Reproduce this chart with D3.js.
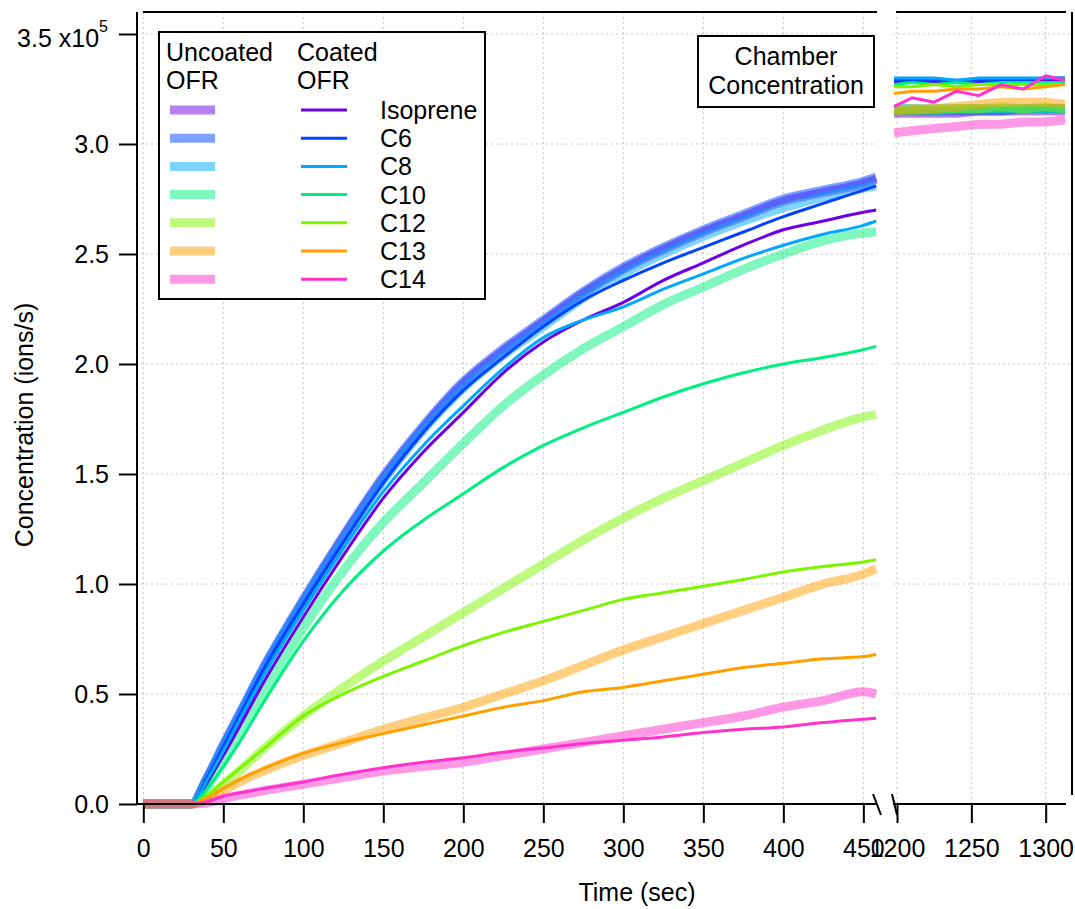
<!DOCTYPE html>
<html>
<head>
<meta charset="utf-8">
<script src="https://cdn.jsdelivr.net/npm/d3@7"></script>
<style>
  html, body { margin: 0; padding: 0; background: #fff; }
  svg { display: block; font-family: "Liberation Sans", Arial, sans-serif; }
</style>
</head>
<body>
<svg id="chart" width="1075" height="909"></svg>
<script>
// ---------------- DATA ----------------
const seriesNames = ["Isoprene", "C6", "C8", "C10", "C12", "C13", "C14"];
const seriesColors = ["#6e00e6", "#0044ff", "#00a8ff", "#00f080", "#7cf500", "#ffa000", "#ff33cc"];

const times = [0, 30, 40, 50, 60, 75, 100, 125, 150, 175, 200, 225, 250, 275, 300, 325, 350, 375, 400, 425, 450, 458];

// Uncoated OFR (x10^5 ions/s)
const uncoatedIsoprene = [0,0,0.12,0.26,0.40,0.61,0.92,1.21,1.48,1.71,1.91,2.06,2.19,2.32,2.43,2.52,2.60,2.67,2.74,2.78,2.82,2.84];
const uncoatedC6       = [0,0,0.12,0.27,0.41,0.62,0.93,1.22,1.49,1.72,1.92,2.07,2.20,2.33,2.44,2.53,2.61,2.68,2.75,2.79,2.83,2.85];
const uncoatedC8       = [0,0,0.12,0.26,0.40,0.61,0.92,1.20,1.47,1.70,1.89,2.04,2.17,2.30,2.41,2.50,2.58,2.65,2.71,2.76,2.80,2.81];
const uncoatedC10      = [0,0,0.08,0.19,0.31,0.50,0.80,1.06,1.28,1.46,1.64,1.81,1.95,2.07,2.17,2.27,2.35,2.43,2.50,2.56,2.595,2.60];
const uncoatedC12      = [0,0,0.03,0.09,0.15,0.25,0.40,0.53,0.65,0.76,0.87,0.98,1.09,1.20,1.30,1.39,1.47,1.55,1.63,1.70,1.76,1.77];
const uncoatedC13      = [0,0,0.02,0.06,0.10,0.15,0.22,0.28,0.34,0.39,0.44,0.50,0.56,0.63,0.70,0.76,0.82,0.88,0.94,1.00,1.045,1.07];
const uncoatedC14      = [0,0,0.005,0.025,0.04,0.06,0.09,0.12,0.15,0.17,0.19,0.22,0.25,0.28,0.31,0.34,0.37,0.40,0.44,0.47,0.51,0.50];

// Coated OFR
const coatedIsoprene = [0,0,0.10,0.22,0.35,0.55,0.85,1.13,1.39,1.60,1.78,1.96,2.10,2.20,2.28,2.38,2.46,2.54,2.61,2.65,2.69,2.70];
const coatedC6       = [0,0,0.12,0.26,0.40,0.61,0.91,1.19,1.46,1.69,1.88,2.03,2.17,2.29,2.38,2.46,2.53,2.60,2.67,2.73,2.79,2.81];
const coatedC8       = [0,0,0.11,0.24,0.38,0.58,0.88,1.16,1.42,1.63,1.81,1.98,2.12,2.20,2.26,2.34,2.41,2.48,2.54,2.59,2.63,2.65];
const coatedC10      = [0,0,0.07,0.17,0.28,0.46,0.74,0.97,1.15,1.29,1.41,1.53,1.63,1.71,1.78,1.85,1.91,1.96,2.00,2.03,2.065,2.08];
const coatedC12      = [0,0,0.04,0.10,0.16,0.25,0.40,0.50,0.58,0.65,0.72,0.78,0.83,0.88,0.93,0.96,0.99,1.02,1.055,1.08,1.10,1.11];
const coatedC13      = [0,0,0.03,0.07,0.11,0.16,0.23,0.28,0.32,0.36,0.40,0.44,0.47,0.51,0.53,0.56,0.59,0.62,0.64,0.66,0.67,0.68];
const coatedC14      = [0,0,0.01,0.035,0.05,0.07,0.10,0.135,0.165,0.19,0.21,0.235,0.255,0.275,0.29,0.305,0.325,0.34,0.35,0.37,0.385,0.39];

// Chamber concentration (right panel)
const chamberTimes = [1198, 1210, 1225, 1240, 1255, 1270, 1285, 1300, 1313];
const chamberUncoatedIsoprene = [3.14,3.14,3.14,3.14,3.15,3.15,3.15,3.15,3.15];
const chamberUncoatedC6       = [3.15,3.15,3.15,3.15,3.15,3.15,3.16,3.16,3.16];
const chamberUncoatedC8       = [3.16,3.16,3.16,3.16,3.16,3.16,3.16,3.16,3.16];
const chamberUncoatedC10      = [3.16,3.16,3.15,3.16,3.16,3.16,3.16,3.16,3.16];
const chamberUncoatedC12      = [3.15,3.15,3.16,3.16,3.16,3.17,3.16,3.17,3.16];
const chamberUncoatedC13      = [3.15,3.16,3.16,3.17,3.18,3.19,3.19,3.19,3.18];
const chamberUncoatedC14      = [3.05,3.06,3.07,3.08,3.09,3.09,3.10,3.10,3.11];
const chamberCoatedIsoprene = [3.28,3.28,3.28,3.28,3.28,3.28,3.29,3.29,3.29];
const chamberCoatedC6       = [3.29,3.29,3.29,3.29,3.29,3.29,3.29,3.30,3.30];
const chamberCoatedC8       = [3.30,3.30,3.30,3.29,3.30,3.30,3.30,3.30,3.30];
const chamberCoatedC10      = [3.27,3.28,3.27,3.28,3.27,3.28,3.28,3.28,3.28];
const chamberCoatedC12      = [3.26,3.26,3.27,3.26,3.27,3.27,3.27,3.27,3.27];
const chamberCoatedC13      = [3.23,3.24,3.24,3.25,3.25,3.26,3.25,3.26,3.27];
const chamberCoatedC14      = [3.17,3.21,3.19,3.24,3.22,3.27,3.25,3.31,3.29];

const yTicks = [0, 0.5, 1.0, 1.5, 2.0, 2.5, 3.0, 3.5];
const xTicksLeft = [0, 50, 100, 150, 200, 250, 300, 350, 400, 450];
const xTicksRight = [1200, 1250, 1300];

// ---------------- BUILD ----------------
const uncoated = [uncoatedIsoprene, uncoatedC6, uncoatedC8, uncoatedC10, uncoatedC12, uncoatedC13, uncoatedC14];
const coated = [coatedIsoprene, coatedC6, coatedC8, coatedC10, coatedC12, coatedC13, coatedC14];
const chUncoated = [chamberUncoatedIsoprene, chamberUncoatedC6, chamberUncoatedC8, chamberUncoatedC10, chamberUncoatedC12, chamberUncoatedC13, chamberUncoatedC14];
const chCoated = [chamberCoatedIsoprene, chamberCoatedC6, chamberCoatedC8, chamberCoatedC10, chamberCoatedC12, chamberCoatedC13, chamberCoatedC14];

const svg = d3.select("#chart");
const FONT = 25;

const yTop = 12, yBottom = 804;
const y = d3.scaleLinear().domain([0, 3.5]).range([804, 34]);
const xL = d3.scaleLinear().domain([-4.56, 460.4]).range([136, 880]);
const xR = d3.scaleLinear().domain([1197.3, 1317.7]).range([893, 1072]);

// Grid
const grid = svg.append("g").attr("stroke", "#c4c4c4").attr("stroke-width", 1).attr("stroke-dasharray", "2,3");
xTicksLeft.forEach(t => grid.append("line").attr("x1", xL(t)).attr("x2", xL(t)).attr("y1", yTop).attr("y2", yBottom));
xTicksRight.forEach(t => grid.append("line").attr("x1", xR(t)).attr("x2", xR(t)).attr("y1", yTop).attr("y2", yBottom));
yTicks.filter(v => v > 0).forEach(v => {
  grid.append("line").attr("x1", 136).attr("x2", 877).attr("y1", y(v)).attr("y2", y(v));
  grid.append("line").attr("x1", 893).attr("x2", 1072).attr("y1", y(v)).attr("y2", y(v));
});

// Lines
const lineL = d3.line().curve(d3.curveMonotoneX).x(d => xL(d[0])).y(d => y(d[1]));
const lineR = d3.line().x(d => xR(d[0])).y(d => y(d[1]));

const gLines = svg.append("g");
uncoated.forEach((vals, i) => {
  gLines.append("path").datum(times.map((t, k) => [t, vals[k]])).attr("d", lineL)
    .attr("fill", "none").attr("stroke", seriesColors[i]).attr("stroke-opacity", 0.5)
    .attr("stroke-width", 9).attr("stroke-linejoin", "round");
  gLines.append("path").datum(chamberTimes.map((t, k) => [t, chUncoated[i][k]])).attr("d", lineR)
    .attr("fill", "none").attr("stroke", seriesColors[i]).attr("stroke-opacity", 0.5)
    .attr("stroke-width", 9).attr("stroke-linejoin", "round");
});
coated.forEach((vals, i) => {
  gLines.append("path").datum(times.map((t, k) => [t, vals[k]])).attr("d", lineL)
    .attr("fill", "none").attr("stroke", seriesColors[i]).attr("stroke-width", 3).attr("stroke-linejoin", "round");
  gLines.append("path").datum(chamberTimes.map((t, k) => [t, chCoated[i][k]])).attr("d", lineR)
    .attr("fill", "none").attr("stroke", seriesColors[i]).attr("stroke-width", 3).attr("stroke-linejoin", "round");
});

// Axes
const yAxis = d3.axisLeft(y).tickValues(yTicks).tickSize(18).tickSizeOuter(0).tickPadding(10)
  .tickFormat(v => v === 3.5 ? "" : d3.format(".1f")(v));
const gy = svg.append("g").attr("transform", "translate(137,0)").call(yAxis);
gy.select(".domain").remove();
gy.selectAll(".tick line").attr("stroke", "#000").attr("stroke-width", 2);
gy.selectAll(".tick text").attr("font-size", FONT).attr("fill", "#000").attr("font-family", "Liberation Sans, Arial, sans-serif");

const top35 = svg.append("text").attr("x", 108).attr("y", y(3.5) + 13).attr("text-anchor", "end")
  .attr("font-size", FONT).attr("fill", "#000");
top35.append("tspan").text("3.5 x10");
top35.append("tspan").attr("dy", -15).attr("font-size", 16).text("5");

const xAxisL = d3.axisBottom(xL).tickValues(xTicksLeft).tickSize(19).tickSizeOuter(0).tickPadding(16).tickFormat(d3.format("d"));
const gxL = svg.append("g").attr("transform", "translate(0,804)").call(xAxisL);
const xAxisR = d3.axisBottom(xR).tickValues(xTicksRight).tickSize(19).tickSizeOuter(0).tickPadding(16).tickFormat(d3.format("d"));
const gxR = svg.append("g").attr("transform", "translate(0,804)").call(xAxisR);
[gxL, gxR].forEach(g => {
  g.select(".domain").remove();
  g.selectAll(".tick line").attr("stroke", "#000").attr("stroke-width", 2);
  g.selectAll(".tick text").attr("font-size", FONT).attr("fill", "#000").attr("font-family", "Liberation Sans, Arial, sans-serif");
});

// Frame lines
const frame = svg.append("g").attr("stroke", "#000").attr("stroke-width", 2).attr("fill", "none");
frame.append("line").attr("x1", 137).attr("x2", 137).attr("y1", yTop).attr("y2", 805);   // left axis
frame.append("line").attr("x1", 136).attr("x2", 876).attr("y1", 804).attr("y2", 804);    // bottom left
frame.append("line").attr("x1", 893).attr("x2", 1066).attr("y1", 804).attr("y2", 804);   // bottom right
frame.append("line").attr("x1", 143).attr("x2", 877).attr("y1", yTop).attr("y2", yTop); // top left
frame.append("line").attr("x1", 896).attr("x2", 1066).attr("y1", yTop).attr("y2", yTop); // top right
frame.append("line").attr("x1", 1072).attr("x2", 1072).attr("y1", yTop).attr("y2", 795); // right axis
// break marks
frame.append("line").attr("x1", 873).attr("y1", 794).attr("x2", 881).attr("y2", 815);
frame.append("line").attr("x1", 892).attr("y1", 794).attr("x2", 897).attr("y2", 815);

// Axis titles
svg.append("text").attr("x", 637).attr("y", 901).attr("text-anchor", "middle")
  .attr("font-size", FONT).attr("fill", "#000").text("Time (sec)");
svg.append("text").attr("transform", "translate(33,425) rotate(-90)").attr("text-anchor", "middle")
  .attr("font-size", FONT).attr("fill", "#000").text("Concentration (ions/s)");

// Legend
const lg = svg.append("g");
lg.append("rect").attr("x", 159).attr("y", 32).attr("width", 326).attr("height", 267)
  .attr("fill", "#fff").attr("stroke", "#000").attr("stroke-width", 2);
lg.append("text").attr("x", 166).attr("y", 61).attr("font-size", FONT).text("Uncoated");
lg.append("text").attr("x", 166).attr("y", 89).attr("font-size", FONT).text("OFR");
lg.append("text").attr("x", 297).attr("y", 61).attr("font-size", FONT).text("Coated");
lg.append("text").attr("x", 297).attr("y", 89).attr("font-size", FONT).text("OFR");
seriesNames.forEach((name, i) => {
  const cy = 110 + i * 28.2;
  lg.append("line").attr("x1", 170).attr("x2", 215).attr("y1", cy).attr("y2", cy)
    .attr("stroke", seriesColors[i]).attr("stroke-opacity", 0.5).attr("stroke-width", 9);
  lg.append("line").attr("x1", 301).attr("x2", 347).attr("y1", cy).attr("y2", cy)
    .attr("stroke", seriesColors[i]).attr("stroke-width", 3);
  lg.append("text").attr("x", 380).attr("y", cy + 9).attr("font-size", FONT).text(name);
});

// Chamber annotation
const ch = svg.append("g");
ch.append("rect").attr("x", 698).attr("y", 36).attr("width", 176).attr("height", 71)
  .attr("fill", "#fff").attr("stroke", "#000").attr("stroke-width", 2);
ch.append("text").attr("x", 786).attr("y", 65).attr("text-anchor", "middle").attr("font-size", FONT).text("Chamber");
ch.append("text").attr("x", 786).attr("y", 94).attr("text-anchor", "middle").attr("font-size", FONT).text("Concentration");
</script>
</body>
</html>
